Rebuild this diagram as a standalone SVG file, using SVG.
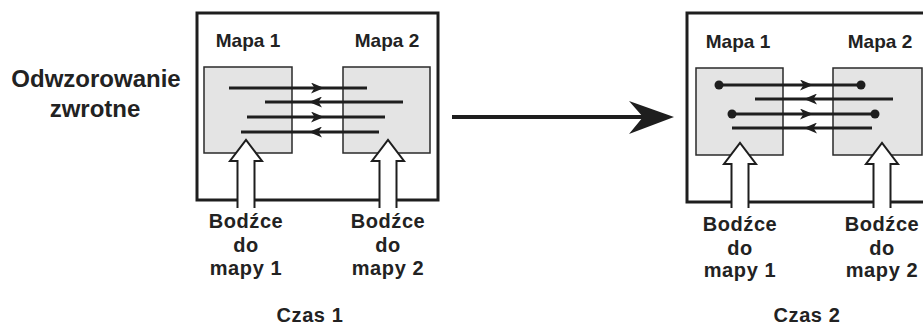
<svg xmlns="http://www.w3.org/2000/svg" width="923" height="326" viewBox="0 0 923 326">
<style>
.frame{fill:#fff;stroke:#1e1e1e;stroke-width:3}
.map{fill:#e4e4e4;stroke:#2a2a2a;stroke-width:1.5}
.t{font-family:"Liberation Sans",Arial,sans-serif;font-weight:bold;fill:#222;text-anchor:middle}
.lbl{font-size:19px}
.st{font-size:20px;letter-spacing:0.6px}
.big{font-size:24px}
.link{fill:none;stroke:#1e1e1e;stroke-width:2.8;marker-mid:url(#ah)}
.hollow{fill:#fff;stroke:#1e1e1e;stroke-width:2;stroke-linejoin:miter}
.dot{fill:#1e1e1e}
</style>
<defs>
<marker id="ah" viewBox="0 0 13 11" refX="12" refY="5.5" markerWidth="13" markerHeight="11" markerUnits="userSpaceOnUse" orient="auto">
<path d="M0,0 L13,5.5 L0,11 L3.5,5.5 Z" fill="#1e1e1e"/>
</marker>
</defs>

<g id="title">
<text class="t big" x="96" y="87">Odwzorowanie</text>
<text class="t big" x="95" y="117">zwrotne</text>
</g>

<g id="time1">
<rect class="frame" x="197" y="13" width="241" height="187"/>
<g id="t1-map1"><rect class="map" x="204" y="67" width="88" height="86"/><text class="t lbl" x="248" y="47">Mapa 1</text></g>
<g id="t1-map2"><rect class="map" x="343" y="67" width="87" height="86"/><text class="t lbl" x="387" y="47">Mapa 2</text></g>
<g id="t1-stim1">
<path class="hollow" d="M237.5,208 L237.5,161 L230,161 L246,140 L262,161 L254.5,161 L254.5,208"/>
<text class="t st" x="246" y="228">Bodźce</text><text class="t st" x="246" y="252">do</text><text class="t st" x="246" y="275">mapy 1</text>
</g>
<g id="t1-stim2">
<path class="hollow" d="M379.5,208 L379.5,161 L372,161 L388,140 L404,161 L396.5,161 L396.5,208"/>
<text class="t st" x="388" y="228">Bodźce</text><text class="t st" x="388" y="252">do</text><text class="t st" x="388" y="275">mapy 2</text>
</g>
<text class="t st" x="310" y="322">Czas 1</text>
</g>

<g id="time2">
<rect class="frame" x="687" y="13" width="250" height="189"/>
<g id="t2-map1"><rect class="map" x="696" y="68" width="87" height="87"/><text class="t lbl" x="738" y="48">Mapa 1</text></g>
<g id="t2-map2"><rect class="map" x="833" y="68" width="89" height="87"/><text class="t lbl" x="880" y="48">Mapa 2</text></g>
<g id="t2-stim1">
<path class="hollow" d="M731.5,208 L731.5,164 L724,164 L740,143 L756,164 L748.5,164 L748.5,208"/>
<text class="t st" x="740" y="231">Bodźce</text><text class="t st" x="740" y="255">do</text><text class="t st" x="740" y="277">mapy 1</text>
</g>
<g id="t2-stim2">
<path class="hollow" d="M873.5,208 L873.5,164 L866,164 L882,143 L898,164 L890.5,164 L890.5,208"/>
<text class="t st" x="882" y="231">Bodźce</text><text class="t st" x="882" y="255">do</text><text class="t st" x="882" y="277">mapy 2</text>
</g>
<text class="t st" x="807" y="322">Czas 2</text>
</g>

<g id="connectors">
<path class="link" d="M229,88 L323,88 L367,88"/>
<path class="link" d="M403,102 L310,102 L265,102"/>
<path class="link" d="M247,117 L323,117 L385,117"/>
<path class="link" d="M379,132 L310,132 L241,132"/>

<path class="link" d="M719,85 L812,85 L861,85"/>
<path class="link" d="M893,99 L805,99 L755,99"/>
<path class="link" d="M732,114 L812,114 L875,114"/>
<path class="link" d="M872,128 L805,128 L732,128"/>
<circle class="dot" cx="719" cy="85" r="4.5"/>
<circle class="dot" cx="861" cy="85" r="4.5"/>
<circle class="dot" cx="732" cy="114" r="4.5"/>
<circle class="dot" cx="875" cy="114" r="4.5"/>

<g id="time-arrow">
<line x1="452" y1="117" x2="648" y2="117" stroke="#1e1e1e" stroke-width="4"/>
<path d="M674,117 L629,101 L643,117 L629,134 Z" fill="#1e1e1e"/>
</g>
</g>
</svg>
